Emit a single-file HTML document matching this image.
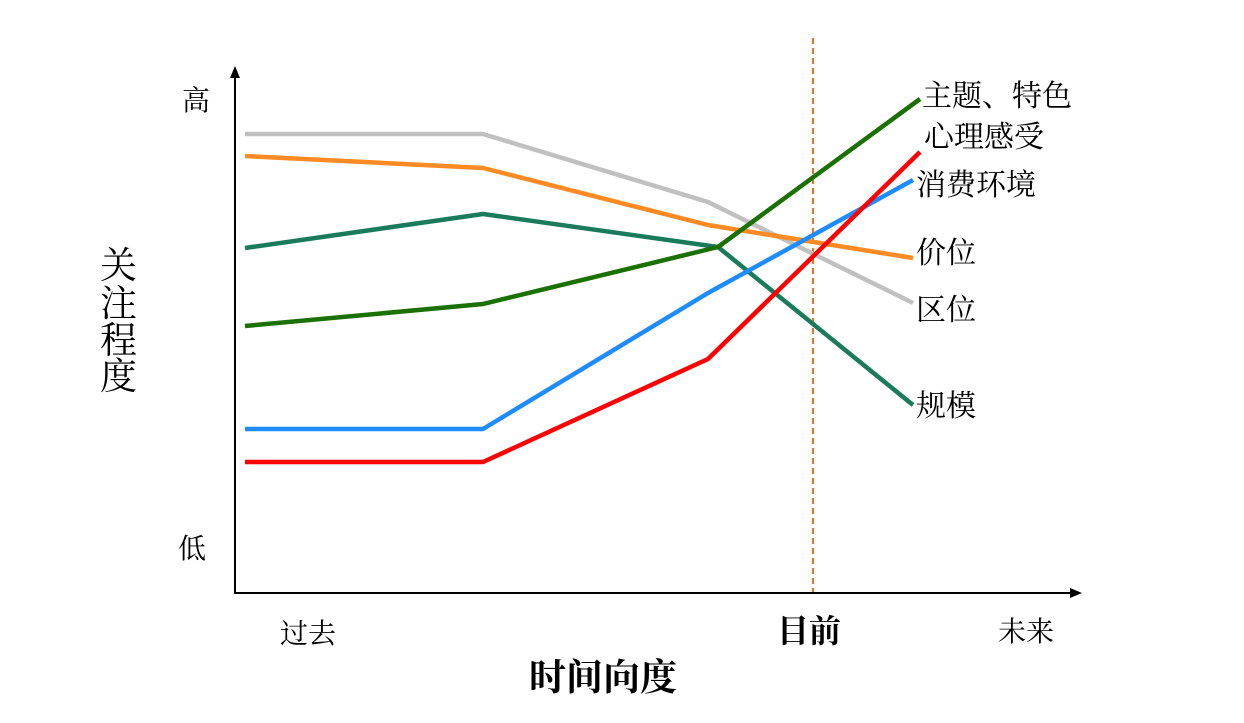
<!DOCTYPE html>
<html><head><meta charset="utf-8"><style>
html,body{margin:0;padding:0;background:#fff;}
svg text{font-family:"Liberation Serif","Noto Serif CJK SC",serif;fill:#000;}
</style></head><body>
<svg width="1244" height="718" viewBox="0 0 1244 718" xmlns="http://www.w3.org/2000/svg">
<line x1="235" y1="594" x2="235" y2="76" stroke="#000" stroke-width="2"/>
<polygon points="235,66 230,78 240,78" fill="#000"/>
<line x1="234" y1="593" x2="1072" y2="593" stroke="#000" stroke-width="2"/>
<polygon points="1082,593 1070,588 1070,598" fill="#000"/>
<line x1="813" y1="38" x2="813" y2="592" stroke="#f07020" stroke-width="2" stroke-dasharray="6,4"/>
<g fill="none" stroke-width="4.5" stroke-linejoin="round">
<polyline stroke="#c0c0c0" points="245,134 483,134 708,202 913,303"/>
<polyline stroke="#ff8a24" points="245,156 483,168 708,225 913,258"/>
<polyline stroke="#1a7a5c" points="245,248 483,214 718,247 913,405"/>
<polyline stroke="#1a7000" points="245,326 483,304 718,247 920,99"/>
<polyline stroke="#1e8cff" points="245,429 483,429 708,293 913,180"/>
<polyline stroke="#ff0000" points="245,462 483,462 708,359 920,152"/>
</g>
<text x="182" y="110" font-size="28">高</text>
<text x="178" y="558" font-size="28">低</text>
<g font-size="37">
<text x="100" y="278">关</text>
<text x="100" y="316">注</text>
<text x="100" y="353">程</text>
<text x="100" y="389">度</text>
</g>
<text x="280" y="643" font-size="28">过去</text>
<text x="777" y="642" font-size="32" font-weight="bold">目前</text>
<text x="998" y="641" font-size="28">未来</text>
<text x="529" y="690" font-size="37" font-weight="bold">时间向度</text>
<g font-size="30">
<text x="922" y="106">主题、特色</text>
<text x="924" y="147">心理感受</text>
<text x="916" y="195">消费环境</text>
<text x="916" y="263">价位</text>
<text x="916" y="320">区位</text>
<text x="916" y="416">规模</text>
</g>
</svg>
</body></html>
